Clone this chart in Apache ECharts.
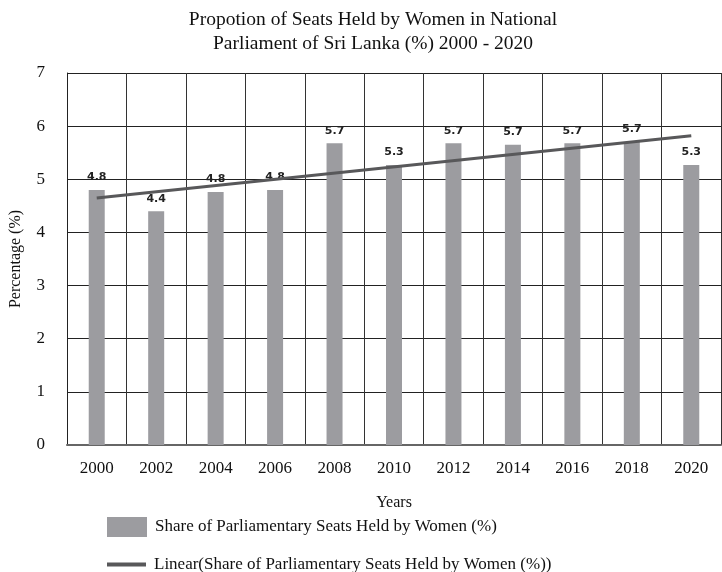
<!DOCTYPE html>
<html>
<head>
<meta charset="utf-8">
<script src="https://cdn.jsdelivr.net/npm/echarts@6/dist/echarts.min.js"></script>
<style>
  html, body { margin: 0; padding: 0; background: #fff; }
  #chart { width: 722px; height: 572px; }
</style>
</head>
<body>
<div id="chart"></div>
<script>
var years = ['2000', '2002', '2004', '2006', '2008', '2010', '2012', '2014', '2016', '2018', '2020']
var shareValues = [4.8, 4.4, 4.76, 4.8, 5.68, 5.27, 5.68, 5.65, 5.68, 5.7, 5.27]
// trend line: only the two end points
var trendValues = [4.65, null, null, null, null, null, null, null, null, null, 5.82]
var yTicks = [0, 1, 2, 3, 4, 5, 6, 7]

var barName = 'Share of Parliamentary Seats Held by Women (%)'
var lineName = 'Linear(Share of Parliamentary Seats Held by Women (%))'
var serif = '"Liberation Serif", "DejaVu Serif", serif'
var myChart = echarts.init(document.getElementById('chart'))

var option = {
  backgroundColor: '#ffffff',
  animation: false,
  title: {
    text: 'Propotion of Seats Held by Women in National\nParliament of Sri Lanka (%) 2000 - 2020',
    left: 368,
    top: 3,
    textAlign: 'center',
    textStyle: {
      fontFamily: serif,
      fontWeight: 'normal',
      fontSize: 19.5,
      lineHeight: 24,
      color: '#111'
    }
  },
  legend: [{
    left: 102,
    top: 512,
    itemWidth: 40,
    itemHeight: 20,
    data: [{ name: barName, icon: 'rect' }],
    textStyle: {
      fontFamily: serif,
      fontSize: 17,
      color: '#111',
      padding: [0, 0, 0, 3]
    }
  }, {
    left: 102,
    top: 551,
    itemWidth: 39,
    itemHeight: 4,
    data: [{ name: lineName, icon: 'rect' }],
    textStyle: {
      fontFamily: serif,
      fontSize: 17,
      color: '#111',
      padding: [0, 0, 0, 3]
    }
  }],
  grid: {
    left: 61,
    right: 1,
    top: 73,
    bottom: 127
  },
  xAxis: {
    type: 'category',
    data: years,
    name: 'Years',
    nameLocation: 'middle',
    nameGap: 50,
    nameTextStyle: {
      fontFamily: serif,
      fontSize: 16,
      color: '#111'
    },
    axisLine: {
      lineStyle: { color: '#666', width: 2 }
    },
    axisTick: { show: false },
    axisLabel: {
      fontFamily: serif,
      fontSize: 17,
      color: '#111',
      margin: 15,
      interval: 0
    },
    splitLine: {
      show: true,
      interval: 0,
      lineStyle: { color: '#333', width: 1 }
    }
  },
  yAxis: {
    type: 'value',
    min: yTicks[0],
    max: yTicks[yTicks.length - 1],
    interval: 1,
    name: 'Percentage (%)',
    nameLocation: 'middle',
    nameGap: 43,
    nameTextStyle: {
      fontFamily: serif,
      fontSize: 16,
      color: '#111'
    },
    axisLine: {
      show: true,
      lineStyle: { color: '#222', width: 1 }
    },
    axisTick: { show: false },
    axisLabel: {
      fontFamily: serif,
      fontSize: 17,
      color: '#111',
      margin: 22
    },
    splitLine: {
      show: true,
      lineStyle: { color: '#222', width: 1 }
    }
  },
  series: [
    {
      name: barName,
      type: 'bar',
      barWidth: 16,
      data: shareValues,
      itemStyle: { color: '#9c9ca0' },
      label: {
        show: true,
        position: 'top',
        distance: 7,
        fontFamily: '"DejaVu Sans", sans-serif',
        fontWeight: 'bold',
        fontSize: 11,
        color: '#222',
        formatter: function(p) {
          return p.value.toFixed(1)
        }
      }
    },
    {
      name: lineName,
      type: 'line',
      data: trendValues,
      connectNulls: true,
      symbol: 'none',
      lineStyle: { color: '#58585a', width: 3 },
      itemStyle: { color: '#58585a' },
      z: 5
    }
  ]
}

myChart.setOption(option)
window.addEventListener('resize', () => { myChart.resize() })
</script>
</body>
</html>
